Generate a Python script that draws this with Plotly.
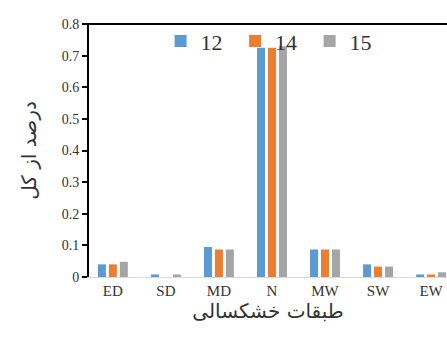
import plotly.graph_objects as go

categories = ["ED", "SD", "MD", "N", "MW", "SW", "EW"]
series_names = ["12", "14", "15"]
s12 = [0.040, 0.008, 0.095, 0.725, 0.087, 0.040, 0.008]
s14 = [0.040, 0.0, 0.087, 0.725, 0.087, 0.033, 0.008]
s15 = [0.048, 0.008, 0.087, 0.730, 0.087, 0.033, 0.015]
colors = ["#5B9BD5", "#ED7D31", "#A5A5A5"]
y_ticks = [0, 0.1, 0.2, 0.3, 0.4, 0.5, 0.6, 0.7, 0.8]
y_ticklabels = ["0", "0.1", "0.2", "0.3", "0.4", "0.5", "0.6", "0.7", "0.8"]

fig = go.Figure()
for name, vals, c in zip(series_names, [s12, s14, s15], colors):
    fig.add_trace(go.Bar(x=categories, y=vals, name=name, marker=dict(color=c, line=dict(width=0))))

fig.update_layout(
    width=447, height=341,
    margin=dict(l=89, r=0, t=24, b=64),
    paper_bgcolor="white", plot_bgcolor="white",
    barmode="group", bargap=0.38, bargroupgap=0.27,
    font=dict(family="Liberation Serif", color="#333333"),
    legend=dict(orientation="h", x=0.2, y=1.015, xanchor="left", yanchor="top",
                font=dict(family="Liberation Serif", size=22, color="#333333"),
                bgcolor="rgba(0,0,0,0)", itemwidth=30, tracegroupgap=0,
                entrywidth=29.5, entrywidthmode="pixels",
                itemclick=False),
    xaxis=dict(range=[-0.45, 6.3], showline=True, linecolor="#d9d9d9", linewidth=1,
               ticks="", tickfont=dict(size=15, color="#333333"), showgrid=False,
               title=dict(text="طبقات خشکسالی", font=dict(family="DejaVu Sans", size=20, color="#333333"), standoff=2)),
    yaxis=dict(range=[0, 0.8], tickvals=y_ticks, ticktext=y_ticklabels, showline=True,
               linecolor="black", linewidth=2, ticks="outside", ticklen=5, tickwidth=2,
               tickcolor="black", showgrid=False, zeroline=False,
               tickfont=dict(size=14, color="#333333"),
               title=dict(text="درصد از کل", font=dict(family="DejaVu Sans", size=20, color="#333333"), standoff=20)),
)
fig.add_shape(type="line", xref="paper", yref="paper", x0=-0.01, x1=1, y0=1, y1=1,
              line=dict(color="black", width=2))
fig.write_html("out.html")
